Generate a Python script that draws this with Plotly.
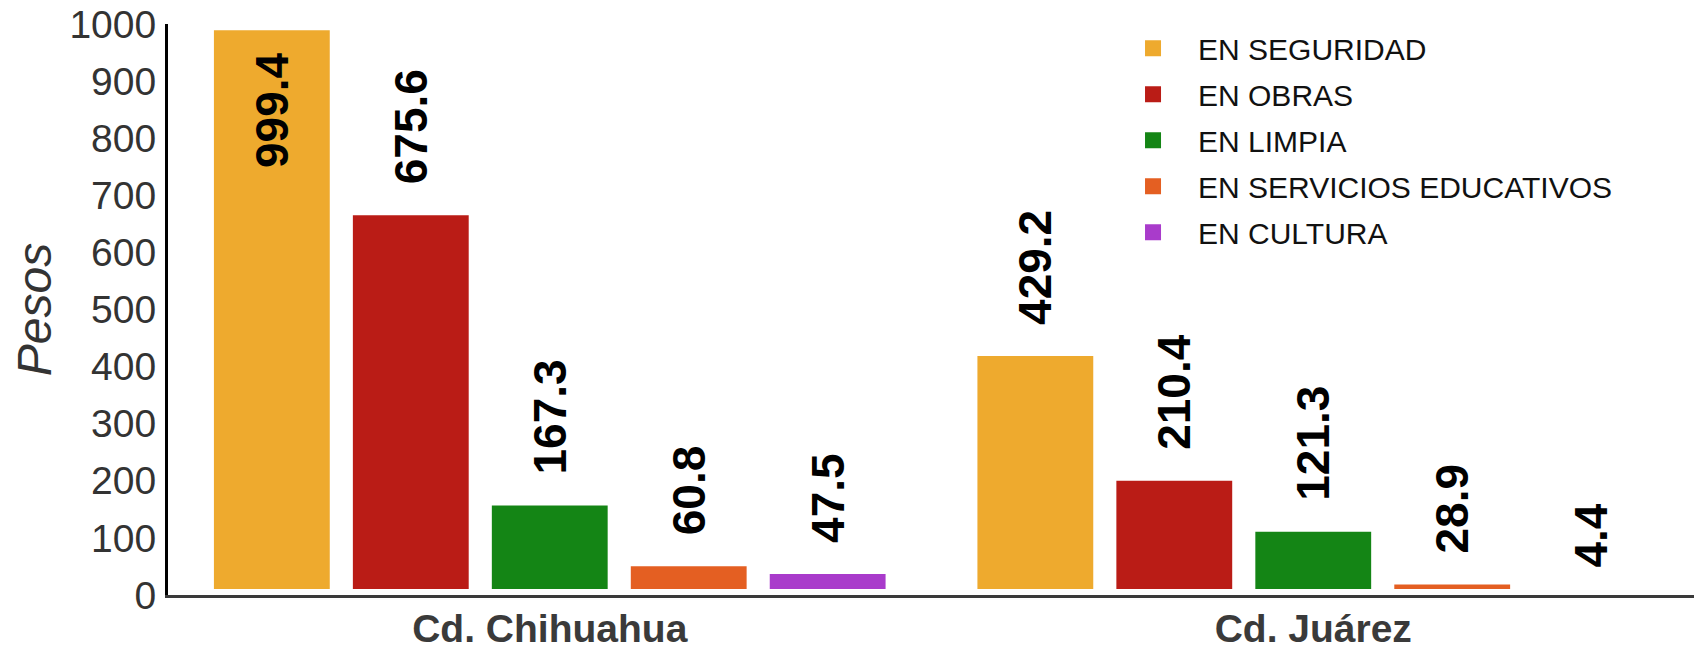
import plotly.graph_objects as go

categories = ["Cd. Chihuahua", "Cd. Juárez"]
series_names = ["EN SEGURIDAD", "EN OBRAS", "EN LIMPIA", "EN SERVICIOS EDUCATIVOS", "EN CULTURA"]
seguridad = [999.4, 429.2]
obras = [675.6, 210.4]
limpia = [167.3, 121.3]
educativos = [60.8, 28.9]
cultura = [47.5, 4.4]
y_ticks = [0, 100, 200, 300, 400, 500, 600, 700, 800, 900, 1000]

colors = ["#EEAA2E", "#BA1C16", "#148515", "#E45F22", "#A93BCB"]
all_values = [seguridad, obras, limpia, educativos, cultura]

IN_PAD = "\u00a0\u00a0"
OUT_PAD = "\u00a0\u2009"
fig = go.Figure()
for i, (name, vals, col) in enumerate(zip(series_names, all_values, colors)):
    pos = ["inside" if v > 900 else "outside" for v in vals]
    tmpl = [("%{y:.1f}" + IN_PAD) if p == "inside" else (OUT_PAD + "%{y:.1f}") for p in pos]
    fig.add_trace(go.Bar(
        x=categories, y=vals, name=name, legendgroup=f"g{i}", showlegend=False,
        marker=dict(color=col, line=dict(width=12, color="white")),
        textposition=pos, texttemplate=tmpl, textangle=-90,
        insidetextanchor="end", constraintext="none", cliponaxis=False,
        textfont=dict(family="Liberation Sans", size=46, color="black", weight="bold"),
    ))
    # legend entry (square swatch) for the series
    fig.add_trace(go.Scatter(
        x=[None], y=[None], mode="markers", name=name, legendgroup=f"g{i}",
        marker=dict(symbol="square", size=18, color=col),
        showlegend=True,
    ))

fig.update_layout(
    width=1694, height=641,
    margin=dict(l=160, r=7, t=16, b=54),
    paper_bgcolor="white", plot_bgcolor="white",
    barmode="group", bargap=0.09, bargroupgap=0.08,
    font=dict(family="Liberation Sans", color="#333333"),
    legend=dict(
        x=0.6156, xanchor="left", y=1.003, yanchor="top",
        font=dict(family="Liberation Sans", size=30, color="#111111"),
        itemwidth=80, traceorder="grouped", tracegroupgap=4,
        bgcolor="rgba(0,0,0,0)",
    ),
    showlegend=True,
)
fig.update_yaxes(
    range=[0, 1000], tickvals=y_ticks, showgrid=False, zeroline=False,
    showline=True, linecolor="black", linewidth=3, ticks="", automargin=False,
    ticklabeloverflow="allow",
    tickfont=dict(size=39, color="#333333"), ticklabelstandoff=1,
    title=dict(text="<i>Pesos</i>", font=dict(size=48, color="#333333"), standoff=26),
)
fig.update_xaxes(
    showgrid=False, showline=True, linecolor="#3a3a3a", linewidth=3, ticks="",
    automargin=False, ticklabeloverflow="allow",
    tickfont=dict(size=39, color="#3a3a3a", weight="bold", family="Liberation Sans"),
    ticklabelstandoff=-3,
)

fig.write_html("out.html")
